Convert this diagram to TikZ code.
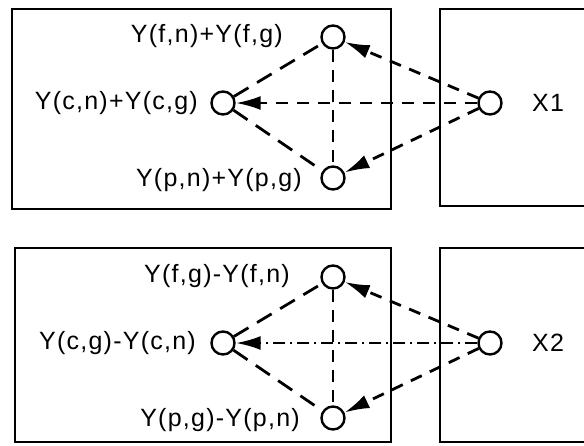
\documentclass[tikz,border=0pt]{standalone}
\usepackage{fontspec}
\setmainfont{Liberation Sans}
\newfontfamily\labfont[LetterSpace=5]{Liberation Sans}
\usetikzlibrary{arrows.meta}
\begin{document}
\begin{tikzpicture}[x=1pt,y=-1pt,
  frame/.style={line width=2.2pt},
  pt/.style={circle,draw,line width=2.4pt,minimum size=23pt,inner sep=0pt},
  lab/.style={font=\labfont\fontsize{25}{28}\selectfont,inner sep=0pt},
  diag/.style={line width=2.8pt,dash pattern=on 17pt off 10pt},
  vert/.style={line width=2.4pt,dash pattern=on 12pt off 8pt},
  arr/.style={line width=2.8pt,dash pattern=on 12pt off 9pt,-{Latex[length=25pt,width=14pt]}},
  arrdd/.style={line width=2.8pt,dash pattern=on 12pt off 5pt on 2pt off 5pt,-{Latex[length=25pt,width=14pt]}},
]
\useasboundingbox (0,0) rectangle (584,445);
% ---------- top panel ----------
\draw[frame] (12,9) rectangle (391,209);
\draw[frame] (584,9) -- (440,9) -- (440,206) -- (584,206);
\node[pt] (t1) at (333,37) {};
\node[pt] (m1) at (223,103) {};
\node[pt] (b1) at (333,178) {};
\node[pt] (x1) at (490,103) {};
\node[lab,anchor=east] (lt1) at (283,36) {Y(f,n)+Y(f,g)};
\node[lab,anchor=east] (lm1) at (198,103) {Y(c,n)+Y(c,g)};
\node[lab,anchor=east] (lb1) at (302,180) {Y(p,n)+Y(p,g)};
\node[lab,anchor=west] (lx1) at (532,103) {X1};
\draw[diag] (m1) -- (t1);
\draw[diag] (m1) -- (b1);
\draw[vert] (t1) -- (b1);
\draw[arr] (x1) -- (t1);
\draw[arr] (x1) -- (m1);
\draw[arr] (x1) -- (b1);
% ---------- bottom panel ----------
\draw[frame] (15,248) rectangle (391,442);
\draw[frame] (584,248) -- (440,248) -- (440,442) -- (584,442);
\node[pt] (t2) at (333,277) {};
\node[pt] (m2) at (223,343) {};
\node[pt] (b2) at (333,418) {};
\node[pt] (x2) at (490,343) {};
\node[lab,anchor=east] (lt2) at (290,276) {Y(f,g)-Y(f,n)};
\node[lab,anchor=east] (lm2) at (196,343) {Y(c,g)-Y(c,n)};
\node[lab,anchor=east] (lb2) at (300,420) {Y(p,g)-Y(p,n)};
\node[lab,anchor=west] (lx2) at (532,343) {X2};
\draw[diag] (m2) -- (t2);
\draw[diag] (m2) -- (b2);
\draw[vert] (t2) -- (b2);
\draw[arr] (x2) -- (t2);
\draw[arrdd] (x2) -- (m2);
\draw[arr] (x2) -- (b2);
\end{tikzpicture}
\end{document}
